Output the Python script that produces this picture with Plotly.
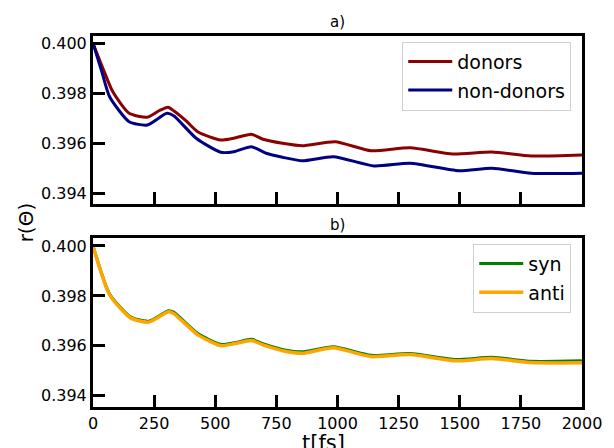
import plotly.graph_objects as go

FONT = "DejaVu Sans"

t_donors = [0, 40, 81, 148, 222, 270, 307, 330, 380, 428, 522, 576, 648, 695, 775, 856, 990, 1137, 1297, 1471, 1631, 1792, 2000]
r_donors = [0.4000, 0.39901, 0.39806, 0.39720, 0.39704, 0.39730, 0.39744, 0.39730, 0.39690, 0.39646, 0.39613, 0.39620,
            0.39636, 0.39616, 0.39600, 0.39590, 0.39606, 0.39570, 0.39582, 0.39557, 0.39565, 0.39549, 0.39553]

t_nondonors = [0, 35, 68, 148, 222, 302, 330, 422, 522, 576, 648, 708, 775, 856, 983, 1150, 1297, 1497, 1631, 1792, 2000]
r_nondonors = [0.4000, 0.3989, 0.39786, 0.39686, 0.39673, 0.39720, 0.39710, 0.39620, 0.39564, 0.39566, 0.39586, 0.39560,
               0.39544, 0.39530, 0.39546, 0.39509, 0.39520, 0.39490, 0.39500, 0.39480, 0.39480]

t_bottom = [0, 68, 155, 228, 309, 330, 429, 522, 576, 649, 695, 790, 856, 983, 1137, 1297, 1484, 1631, 1792, 2000]
r_syn = [0.4000, 0.39808, 0.39715, 0.39699, 0.39741, 0.39735, 0.39649, 0.39606, 0.39612, 0.39626, 0.39609, 0.39582,
         0.39576, 0.39596, 0.39562, 0.39569, 0.39545, 0.39554, 0.39538, 0.39540]
r_anti = [0.4000, 0.39804, 0.39711, 0.39695, 0.39737, 0.39730, 0.39644, 0.39601, 0.39608, 0.39621, 0.39604, 0.39577,
          0.39570, 0.39592, 0.39557, 0.39565, 0.39540, 0.39549, 0.39533, 0.39532]

x_ticks = [0, 250, 500, 750, 1000, 1250, 1500, 1750, 2000]
y_ticks = [0.394, 0.396, 0.398, 0.400]

fig = go.Figure()
fig.add_trace(go.Scatter(x=t_donors, y=r_donors, name="donors", mode="lines", legendgroup="g1",
                         line=dict(color="#8B0000", width=3, shape="spline", smoothing=0.6),
                         xaxis="x", yaxis="y", legend="legend"))
fig.add_trace(go.Scatter(x=t_nondonors, y=r_nondonors, name="non-donors", mode="lines", legendgroup="g2",
                         line=dict(color="#000080", width=3, shape="spline", smoothing=0.6),
                         xaxis="x", yaxis="y", legend="legend"))
fig.add_trace(go.Scatter(x=t_bottom, y=r_syn, name="syn", mode="lines", legendgroup="g3",
                         line=dict(color="#008000", width=3, shape="spline", smoothing=0.6),
                         xaxis="x2", yaxis="y2", legend="legend2"))
fig.add_trace(go.Scatter(x=t_bottom, y=r_anti, name="anti", mode="lines", legendgroup="g4",
                         line=dict(color="#FFA500", width=3.5, shape="spline", smoothing=0.6),
                         xaxis="x2", yaxis="y2", legend="legend2"))

axis_common = dict(showline=True, linecolor="black", linewidth=3, mirror=True,
                   ticks="inside", ticklen=12, tickwidth=2.5, tickcolor="black",
                   showgrid=False, zeroline=False,
                   tickfont=dict(family=FONT, size=16, color="black"))

top_dom = [0.5472, 1.0]
bot_dom = [0.0, 0.4555]

legend_common = dict(xanchor="right", yanchor="top", bgcolor="white", bordercolor="#d0d0d0", borderwidth=1,
                     itemwidth=44, tracegroupgap=1, font=dict(family=FONT, size=19, color="black"))

fig.update_layout(
    width=614, height=448,
    margin=dict(l=93, r=22, t=36, b=41),
    paper_bgcolor="white", plot_bgcolor="white",
    font=dict(family=FONT, color="black"),
    xaxis=dict(domain=[0, 1], anchor="y", range=[0, 2000], tickvals=x_ticks, showticklabels=False, **axis_common),
    yaxis=dict(domain=top_dom, anchor="x", range=[0.39357, 0.40029], tickvals=y_ticks,
               tickformat=".3f", **axis_common),
    xaxis2=dict(domain=[0, 1], anchor="y2", range=[0, 2000], tickvals=x_ticks, **axis_common),
    yaxis2=dict(domain=bot_dom, anchor="x2", range=[0.39355, 0.40032], tickvals=y_ticks,
                tickformat=".3f", **axis_common),
    legend=dict(x=0.978, y=0.985, **legend_common),
    legend2=dict(x=0.978, y=0.440, **legend_common),
    annotations=[
        dict(text="a)", x=0.5, y=(407 - 22) / 371, xref="paper", yref="paper", showarrow=False,
             xanchor="center", yanchor="middle", font=dict(family=FONT, size=15, color="black")),
        dict(text="b)", x=0.5, y=(407 - 225) / 371, xref="paper", yref="paper", showarrow=False,
             xanchor="center", yanchor="middle", font=dict(family=FONT, size=15, color="black")),
        dict(text="r(Θ)", x=(25 - 93) / 499, y=(407 - 222) / 371, xref="paper", yref="paper", showarrow=False,
             textangle=-90, xanchor="center", yanchor="middle", font=dict(family=FONT, size=20, color="black")),
        dict(text="t[fs]", x=(328 - 93) / 499, y=(407 - 443) / 371, xref="paper", yref="paper", showarrow=False,
             xanchor="center", yanchor="middle", font=dict(family=FONT, size=21, color="black")),
    ],
)

fig.write_html("out.html")
